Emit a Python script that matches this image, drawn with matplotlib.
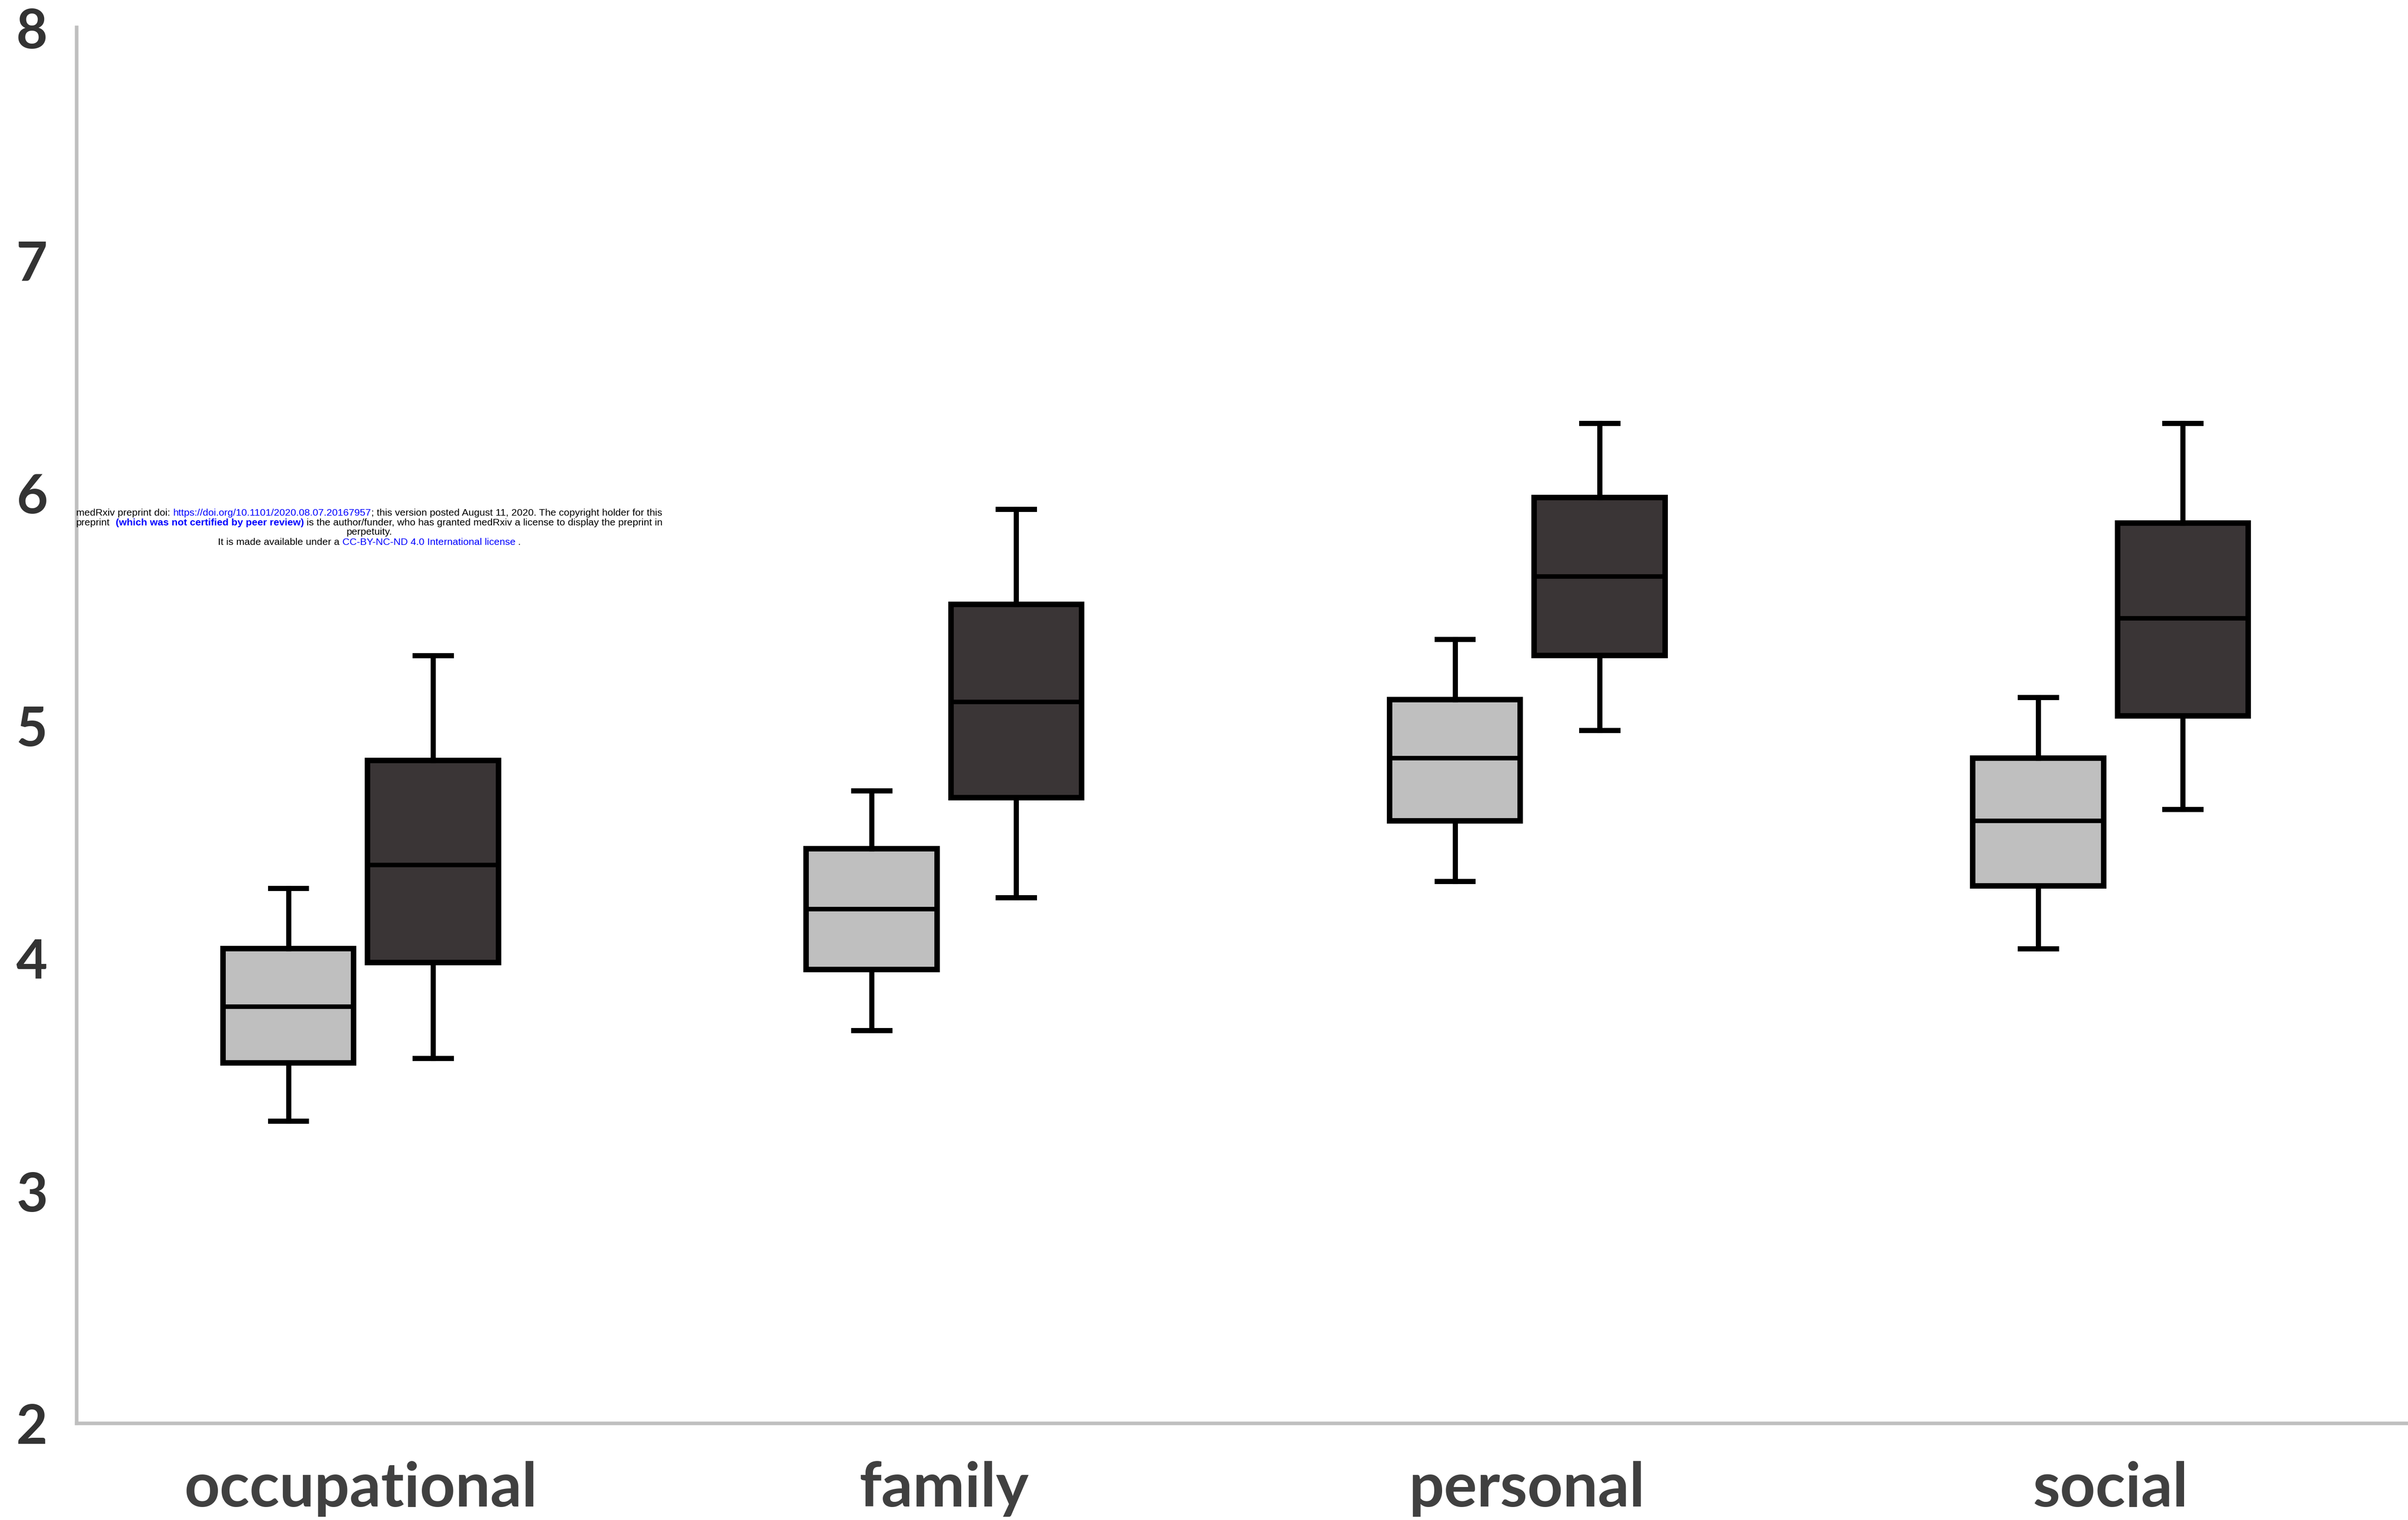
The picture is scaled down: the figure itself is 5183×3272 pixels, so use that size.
import matplotlib
matplotlib.use("Agg")
import matplotlib.pyplot as plt

# ---------------- data ----------------
categories = ["occupational", "family", "personal", "social"]

light_whislo = [3.30, 3.69, 4.33, 4.04]
light_q1     = [3.55, 3.95, 4.59, 4.31]
light_med    = [3.79, 4.21, 4.86, 4.59]
light_q3     = [4.04, 4.47, 5.11, 4.86]
light_whishi = [4.30, 4.72, 5.37, 5.12]

dark_whislo = [3.57, 4.26, 4.98, 4.64]
dark_q1     = [3.98, 4.69, 5.30, 5.04]
dark_med    = [4.40, 5.10, 5.64, 5.46]
dark_q3     = [4.85, 5.52, 5.98, 5.87]
dark_whishi = [5.30, 5.93, 6.30, 6.30]

yticks = [2, 3, 4, 5, 6, 7, 8]

# ---------------- figure ----------------
W, H, DPI = 5183, 3273, 100
fig = plt.figure(figsize=(W / DPI, H / DPI), dpi=DPI)
fig.patch.set_facecolor("white")
ax = fig.add_axes([0.0318, 0.0636, 0.9682, 0.918])

light_color = "#BFBFBF"
dark_color = "#3A3536"
offset = 0.124
bw = 0.224


def make_stats(lo, q1, med, q3, hi):
    return [dict(whislo=a, q1=b, med=c, q3=d, whishi=e, fliers=[])
            for a, b, c, d, e in zip(lo, q1, med, q3, hi)]


groups = [
    (make_stats(light_whislo, light_q1, light_med, light_q3, light_whishi), -offset, light_color),
    (make_stats(dark_whislo, dark_q1, dark_med, dark_q3, dark_whishi), offset, dark_color),
]

for stats, off, col in groups:
    pos = [i + off for i in range(len(categories))]
    ax.bxp(stats, positions=pos, widths=bw, patch_artist=True, showfliers=False,
           capwidths=0.062,
           boxprops=dict(facecolor=col, edgecolor="black", linewidth=8.5),
           whiskerprops=dict(color="black", linewidth=8),
           capprops=dict(color="black", linewidth=8),
           medianprops=dict(color="black", linewidth=7),
           manage_ticks=False)

ax.set_xlim(-0.487, 3.51)
ax.set_ylim(2, 8)
ax.set_yticks(yticks)
ax.set_yticklabels([str(t) for t in yticks], fontsize=84, fontweight="bold",
                   color="#333333", family="Lato")
ax.set_xticks(range(len(categories)))
ax.set_xticklabels(categories, fontsize=96, fontweight="bold",
                   color="#404040", family="Lato")
ax.tick_params(axis="y", length=0, pad=45)
ax.tick_params(axis="x", length=0, pad=58)

for s in ["top", "right"]:
    ax.spines[s].set_visible(False)
for s in ["left", "bottom"]:
    ax.spines[s].set_color("#BFBFBF")
    ax.spines[s].set_linewidth(5.5)

# ---------------- medRxiv watermark ----------------
blue = "#0000FF"
wm_lines = [
    [("medRxiv preprint doi:", "black", "normal", 1),
     ("https://doi.org/10.1101/2020.08.07.20167957", blue, "normal", 0),
     ("; this version posted August 11, 2020. The copyright holder for this", "black", "normal", 0)],
    [("preprint", "black", "normal", 2),
     ("(which was not certified by peer review)", blue, "bold", 1),
     ("is the author/funder, who has granted medRxiv a license to display the preprint in", "black", "normal", 0)],
    [("perpetuity.", "black", "normal", 0)],
    [("It is made available under a", "black", "normal", 1),
     ("CC-BY-NC-ND 4.0 International license", blue, "normal", 1),
     (".", "black", "normal", 0)],
]
wm_baselines = [1110, 1131, 1151, 1173]
wm_xc = 795
wm_fs = 15.4

r = fig.canvas.get_renderer()
ta = fig.text(0, 0, "xx", fontsize=wm_fs, family="Liberation Sans")
tb = fig.text(0, 0, "x x", fontsize=wm_fs, family="Liberation Sans")
space_w = tb.get_window_extent(r).width - ta.get_window_extent(r).width
ta.remove()
tb.remove()

for segs, yb in zip(wm_lines, wm_baselines):
    texts = []
    widths = []
    for txt, col, wt, nsp in segs:
        t = fig.text(0, 1 - yb / H, txt, color=col, fontsize=wm_fs, fontweight=wt,
                     family="Liberation Sans", ha="left", va="baseline")
        texts.append((t, nsp))
        widths.append(t.get_window_extent(r).width + nsp * space_w)
    total = sum(widths)
    x = wm_xc - total / 2
    for (t, nsp), w in zip(texts, widths):
        t.set_x(x / W)
        x += w

fig.savefig("out.png", dpi=DPI, facecolor="white")
